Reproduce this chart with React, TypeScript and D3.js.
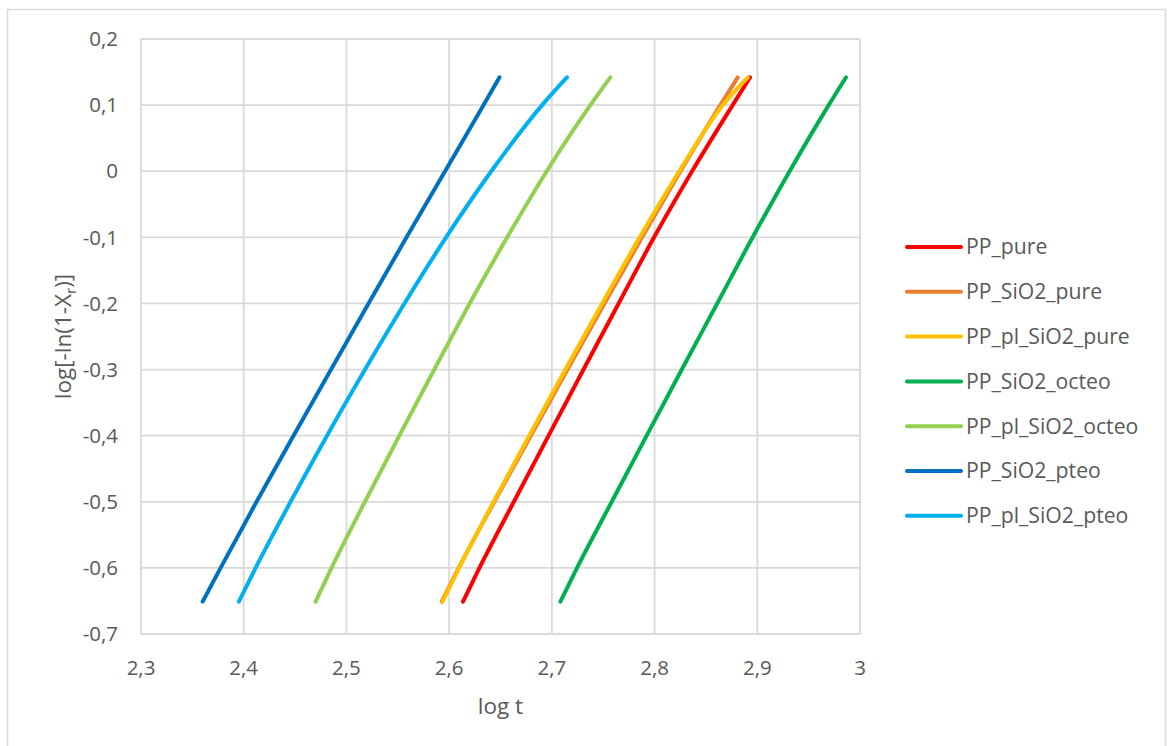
import React from "react";
import * as d3 from "d3";

// Shared y levels (log[-ln(1-Xr)]) at which each curve was read
const yLevels = [-0.651, -0.6, -0.5, -0.4, -0.3, -0.2, -0.1, 0, 0.1, 0.142];

// log t values of each series at the y levels above
const ppPure = [2.6135, 2.6295, 2.663, 2.6968, 2.7308, 2.765, 2.7995, 2.8365, 2.876, 2.893];
const ppSiO2Pure = [2.5928, 2.6093, 2.644, 2.6795, 2.7152, 2.7512, 2.7878, 2.8252, 2.864, 2.881];
const ppPlSiO2Pure = [2.5935, 2.6097, 2.6433, 2.678, 2.7132, 2.749, 2.7855, 2.824, 2.8665, 2.8908];
const ppSiO2Octeo = [2.7083, 2.7245, 2.7583, 2.7923, 2.8265, 2.861, 2.8955, 2.9315, 2.9695, 2.9864];
const ppPlSiO2Octeo = [2.47, 2.4855, 2.518, 2.5515, 2.5855, 2.62, 2.6565, 2.695, 2.7375, 2.757];
const ppSiO2Pteo = [2.36, 2.3775, 2.4125, 2.4485, 2.485, 2.5215, 2.5585, 2.596, 2.6335, 2.649];
const ppPlSiO2Pteo = [2.3953, 2.4116, 2.4456, 2.4811, 2.5181, 2.5565, 2.597, 2.641, 2.6905, 2.7147];

const seriesNames = [
  "PP_pure",
  "PP_SiO2_pure",
  "PP_pl_SiO2_pure",
  "PP_SiO2_octeo",
  "PP_pl_SiO2_octeo",
  "PP_SiO2_pteo",
  "PP_pl_SiO2_pteo",
];
const seriesColors = ["#FF0000", "#ED7D31", "#FFC000", "#00B050", "#92D050", "#0070C0", "#00B0F0"];
const seriesX = [ppPure, ppSiO2Pure, ppPlSiO2Pure, ppSiO2Octeo, ppPlSiO2Octeo, ppSiO2Pteo, ppPlSiO2Pteo];

const xTickValues = [2.3, 2.4, 2.5, 2.6, 2.7, 2.8, 2.9, 3.0];
const xTickLabels = ["2,3", "2,4", "2,5", "2,6", "2,7", "2,8", "2,9", "3"];
const yTickValues = [0.2, 0.1, 0, -0.1, -0.2, -0.3, -0.4, -0.5, -0.6, -0.7];
const yTickLabels = ["0,2", "0,1", "0", "-0,1", "-0,2", "-0,3", "-0,4", "-0,5", "-0,6", "-0,7"];

const FONT = "'Open Sans', 'Noto Sans', sans-serif";
const TEXT = "#595959";
const GRID = "#d9d9d9";

export default function App() {
  const W = 1171;
  const H = 746;
  const plot = { left: 141, right: 860, top: 39, bottom: 634 };
  const x = d3.scaleLinear().domain([2.3, 3.0]).range([plot.left, plot.right]);
  const y = d3.scaleLinear().domain([-0.7, 0.2]).range([plot.bottom, plot.top]);

  const line = d3
    .line<[number, number]>()
    .x((d) => x(d[0]))
    .y((d) => y(d[1]))
    .curve(d3.curveMonotoneX);

  const legendX1 = 907;
  const legendX2 = 961;
  const legendTextX = 966;
  const legendY0 = 247;
  const legendStep = 44.8;

  return (
    <svg
      width={W}
      height={H}
      style={{ position: "fixed", left: 0, top: 0, display: "block", background: "#fff" }}
    >
      <rect x={7.5} y={9.5} width={1158} height={760} fill="#fff" stroke={GRID} strokeWidth={1.5} />

      {/* gridlines */}
      {xTickValues.map((v, i) => (
        <line key={"gx" + i} x1={x(v)} x2={x(v)} y1={plot.top} y2={plot.bottom} stroke={GRID} strokeWidth={1.8} />
      ))}
      {yTickValues.map((v, i) => (
        <line key={"gy" + i} x1={plot.left} x2={plot.right} y1={y(v)} y2={y(v)} stroke={GRID} strokeWidth={1.8} />
      ))}

      {/* tick labels */}
      {xTickValues.map((v, i) => (
        <text
          key={"tx" + i}
          x={x(v)}
          y={668}
          dy="0.35em"
          textAnchor="middle"
          fontFamily={FONT}
          fontSize={20.5}
          fill={TEXT}
        >
          {xTickLabels[i]}
        </text>
      ))}
      {yTickValues.map((v, i) => (
        <text
          key={"ty" + i}
          x={118}
          y={y(v)}
          dy="0.35em"
          textAnchor="end"
          fontFamily={FONT}
          fontSize={20.5}
          fill={TEXT}
        >
          {yTickLabels[i]}
        </text>
      ))}

      {/* axis titles */}
      <text x={(plot.left + plot.right) / 2} y={706} dy="0.35em" textAnchor="middle" fontFamily={FONT} fontSize={22.5} fill={TEXT}>
        log t
      </text>
      <text
        transform={`translate(63, ${(plot.top + plot.bottom) / 2}) rotate(-90)`}
        dy="0.35em"
        textAnchor="middle"
        fontFamily={FONT}
        fontSize={22.5}
        fill={TEXT}
      >
        log[-ln(1-X
        <tspan fontSize={15} dy={5}>r</tspan>
        <tspan dy={-5}>)]</tspan>
      </text>

      {/* series */}
      {seriesX.map((xs, si) => {
        const pts: [number, number][] = xs.map((xv, k) => [xv, yLevels[k]]);
        return (
          <path
            key={"s" + si}
            d={line(pts) || ""}
            fill="none"
            stroke={seriesColors[si]}
            strokeWidth={4}
            strokeLinecap="round"
            strokeLinejoin="round"
          />
        );
      })}

      {/* legend */}
      {seriesNames.map((name, i) => {
        const ly = legendY0 + i * legendStep;
        return (
          <g key={"lg" + i}>
            <line x1={legendX1} x2={legendX2} y1={ly} y2={ly} stroke={seriesColors[i]} strokeWidth={4} strokeLinecap="round" />
            <text x={legendTextX} y={ly} dy="0.35em" fontFamily={FONT} fontSize={21.2} fill={TEXT}>
              {name}
            </text>
          </g>
        );
      })}
    </svg>
  );
}
